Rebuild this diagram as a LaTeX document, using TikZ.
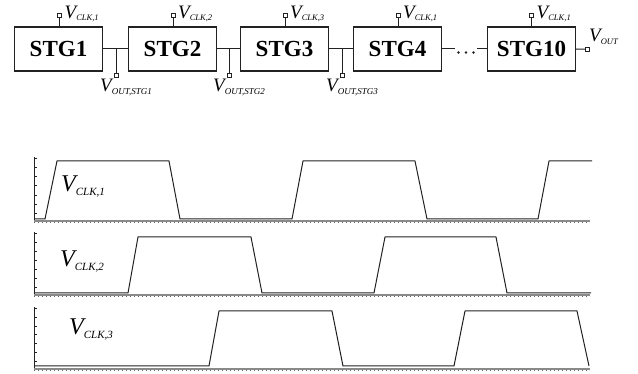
\documentclass[tikz,border=0pt]{standalone}
\usepackage{fontspec}
\setmainfont{Liberation Serif}
\definecolor{ink}{HTML}{222222}
\definecolor{axisgray}{HTML}{8A8A8A}
% signal name: italic V with a lowered subscript
\newcommand{\Vlab}[4]{{\fontsize{#1}{#1}\selectfont\itshape V}\raisebox{-#3}{\fontsize{#2}{#2}\selectfont\itshape #4}}
\tikzset{
  stgbox/.style={draw=ink, line width=1.2pt, minimum width=88pt, minimum height=44pt,
    inner sep=0pt, font=\fontsize{23}{23}\selectfont\bfseries},
  pinbox/.style={draw=ink, line width=0.8pt, minimum size=4pt, inner sep=0pt, fill=white},
  wire/.style={draw=ink, line width=1pt},
  wave/.style={draw=ink, line width=1pt, line join=round},
  lbl/.style={anchor=base west, inner sep=0pt},
  vaxis/.style={draw=ink, line width=0.8pt},
  haxis/.style={draw=axisgray, line width=1.4pt},
  hticks/.style={draw=ink!70, line width=0.6pt, dash pattern=on 0.6pt off 3.4pt},
}
\begin{document}
\begin{tikzpicture}[x=1pt, y=-1pt]
\useasboundingbox (0,0) rectangle (638,374);

% ---------------- shift-register chain ----------------
\node[stgbox] (s1)  at (58.5,49)  {STG1};
\node[stgbox] (s2)  at (172.5,49) {STG2};
\node[stgbox] (s3)  at (284.5,49) {STG3};
\node[stgbox] (s4)  at (397.5,49) {STG4};
\node[stgbox] (s10) at (531.5,49) {STG10};

% clock pins
\node[pinbox] (c1)  at (59.5,15.5)  {};
\node[pinbox] (c2)  at (173,15.5) {};
\node[pinbox] (c3)  at (285,15.5) {};
\node[pinbox] (c4)  at (398,15.5) {};
\node[pinbox] (c10) at (531.5,15.5) {};
\foreach \s/\c in {s1/c1, s2/c2, s3/c3, s4/c4, s10/c10}
  \draw[wire] (\s.north -| \c) -- (\c.south);

\node[lbl] at (64.5,18.5)  {\Vlab{19}{8.5}{2.5pt}{CLK,1}};
\node[lbl] at (178,18.5)   {\Vlab{19}{8.5}{2.5pt}{CLK,2}};
\node[lbl] at (290,18.5)   {\Vlab{19}{8.5}{2.5pt}{CLK,3}};
\node[lbl] at (403,18.5)   {\Vlab{19}{8.5}{2.5pt}{CLK,1}};
\node[lbl] at (536.5,18.5) {\Vlab{19}{8.5}{2.5pt}{CLK,1}};

% stage-to-stage wires with output taps
\draw[wire] (s1.east) -- (s2.west);
\draw[wire] (s2.east) -- (s3.west);
\draw[wire] (s3.east) -- (s4.west);

\node[pinbox] (t1) at (116,75.3) {};
\node[pinbox] (t2) at (229,75.3) {};
\node[pinbox] (t3) at (342,75.3) {};
\draw[wire] (s1.east -| t1) -- (t1.north);
\draw[wire] (s2.east -| t2) -- (t2.north);
\draw[wire] (s3.east -| t3) -- (t3.north);

\node[lbl] at (100,92) {\Vlab{19}{9}{3pt}{OUT,STG1}};
\node[lbl] at (213,92) {\Vlab{19}{9}{3pt}{OUT,STG2}};
\node[lbl] at (326,92) {\Vlab{19}{9}{3pt}{OUT,STG3}};

% gap between STG4 and STG10
\coordinate (d1) at (455,49);
\coordinate (d2) at (477,49);
\draw[wire] (s4.east) -- (d1);
\draw[wire] (d2) -- (s10.west);
\foreach \x in {458.5,466,473.5}
  \fill[ink] (\x,52.5) circle (1.3pt);

% final output
\node[pinbox] (vo) at (587.5,49.2) {};
\draw[wire] (s10.east) -- (vo.west);
\node[lbl] at (589,42) {\Vlab{19}{8.5}{3pt}{OUT}};

% ---------------- clock waveforms ----------------
% axes: #1 top of vertical axis, #2 baseline
\foreach \top/\bot in {157/221, 232/295, 307/369} {
  \draw[vaxis] (34,\top) -- (34,\bot);
  \foreach \k in {1,...,7}
    \draw[vaxis] (34,{\top+(\bot-\top)*(\k-0.85)/7}) -- ++(2.5,0);
  \draw[haxis] (34,\bot) -- (590,\bot);
  \draw[hticks] (34,\bot+1.2) -- (590,\bot+1.2);
}

% phase 1
\draw[wave] (34,219) -- (45,219) -- (57,161) -- (169,161) -- (180,219) -- (292,219)
  -- (303,161) -- (415,161) -- (427,219) -- (538,219) -- (549,161) -- (592,161);
% phase 2
\draw[wave] (34,293) -- (128,293) -- (138,237) -- (251,237) -- (262,293) -- (374,293)
  -- (385,237) -- (496,237) -- (507,293) -- (591,293);
% phase 3
\draw[wave] (34,366) -- (209,366) -- (219,311) -- (332,311) -- (343,366) -- (454,366)
  -- (465,311) -- (577,311) -- (589,366);

\node[lbl] at (61,192) {\Vlab{24}{11}{4pt}{CLK,1}};
\node[lbl] at (60,267) {\Vlab{24}{11}{4pt}{CLK,2}};
\node[lbl] at (69,335) {\Vlab{24}{11}{4pt}{CLK,3}};
\end{tikzpicture}
\end{document}
